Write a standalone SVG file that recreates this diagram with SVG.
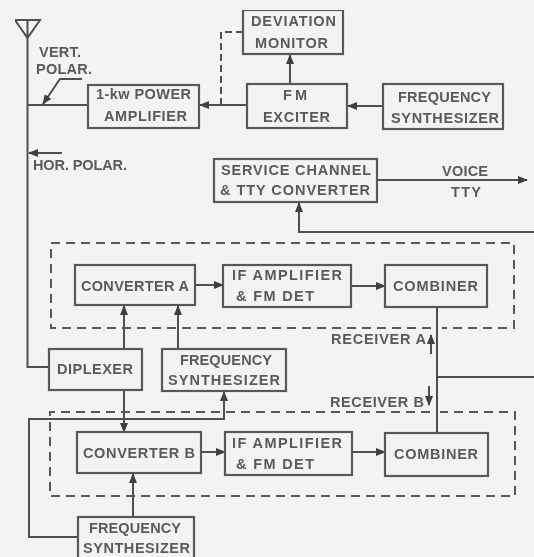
<svg xmlns="http://www.w3.org/2000/svg" width="534" height="557" viewBox="0 0 534 557">
<style>
.b{fill:none;stroke:#59595a;stroke-width:2.2}
.c{fill:none;stroke:#4f4f50;stroke-width:2}
.d{fill:none;stroke:#59595a;stroke-width:2;stroke-dasharray:9 6}
text{font-family:"Liberation Sans",Arial,sans-serif;font-weight:bold;font-size:14.5px;fill:#5a5a5b;text-anchor:start}
</style>
<defs>
<marker id="a" markerUnits="userSpaceOnUse" markerWidth="11" markerHeight="10" refX="9" refY="5" orient="auto"><path d="M0 1L10 5L0 9Z" fill="#3f3f40"/></marker>
<filter id="s" x="0" y="0" width="100%" height="100%"><feGaussianBlur stdDeviation="0.6"/></filter>
</defs>
<rect width="534" height="557" fill="#f3f3f1"/>
<g filter="url(#s)">
<g id="connectors">
<path class="c" d="M15 20H40L27.500 38L15 20ZM27.500 20V367H48"/>
<path class="c" d="M28 105H87"/>
<path class="c" d="M82 79H60L43 104" marker-end="url(#a)"/>
<path class="c" d="M62 153H29" marker-end="url(#a)"/>
<path class="c" d="M247 105H200" marker-end="url(#a)"/>
<path class="c" d="M221 105V32H243" stroke-dasharray="7 4"/>
<path class="c" d="M290 83V55" marker-end="url(#a)"/>
<path class="c" d="M383 106H348" marker-end="url(#a)"/>
<path class="c" d="M377 180H527" marker-end="url(#a)"/>
<path class="c" d="M534 232H299V203" marker-end="url(#a)"/>
<path class="c" d="M195 285H223" marker-end="url(#a)"/>
<path class="c" d="M351 286H385" marker-end="url(#a)"/>
<path class="c" d="M124 349V306" marker-end="url(#a)"/>
<path class="c" d="M178 349V306" marker-end="url(#a)"/>
<path class="c" d="M124 390V432" marker-end="url(#a)"/>
<path class="c" d="M78 537H29V419H224V392" marker-end="url(#a)"/>
<path class="c" d="M133 517V474" marker-end="url(#a)"/>
<path class="c" d="M201 452H225" marker-end="url(#a)"/>
<path class="c" d="M352 452H385" marker-end="url(#a)"/>
<path class="c" d="M437 307V433M437 377H534"/>
<path class="c" d="M431 354V335" marker-end="url(#a)"/>
<path class="c" d="M429 386V405" marker-end="url(#a)"/>
<path class="d" d="M431 328H51V243H514V328H442"/>
<path class="d" d="M430 412H50V496H515V412H440"/>
</g>
<g id="antenna-labels">
<text x="39" y="57" textLength="42" lengthAdjust="spacing">VERT.</text>
<text x="36" y="74" textLength="56" lengthAdjust="spacing">POLAR.</text>
<text x="33" y="170" textLength="94" lengthAdjust="spacing">HOR. POLAR.</text>
</g>
<g id="monitor"><rect class="b" x="243" y="10" width="100" height="44"/>
<text x="251" y="26" textLength="85" lengthAdjust="spacing">DEVIATION</text><text x="255" y="48" textLength="73" lengthAdjust="spacing">MONITOR</text></g>
<g id="pa"><rect class="b" x="88" y="85" width="111" height="43"/>
<text x="96" y="99" textLength="95" lengthAdjust="spacing">1-kw POWER</text><text x="104" y="121" textLength="83" lengthAdjust="spacing">AMPLIFIER</text></g>
<g id="exciter"><rect class="b" x="247" y="84" width="100" height="44"/>
<text x="283" y="100" textLength="24" lengthAdjust="spacing">FM</text><text x="263" y="122" textLength="67" lengthAdjust="spacing">EXCITER</text></g>
<g id="synth-tx"><rect class="b" x="383" y="84" width="120" height="45"/>
<text x="398" y="102" textLength="93" lengthAdjust="spacing">FREQUENCY</text><text x="391" y="123" textLength="108" lengthAdjust="spacing">SYNTHESIZER</text></g>
<g id="service"><rect class="b" x="214" y="159" width="163" height="43"/>
<text x="221" y="175" textLength="150" lengthAdjust="spacing">SERVICE CHANNEL</text><text x="220" y="195" textLength="150" lengthAdjust="spacing">&amp; TTY CONVERTER</text></g>
<g id="out-labels"><text x="442" y="176" textLength="46" lengthAdjust="spacing">VOICE</text><text x="451" y="197" textLength="30" lengthAdjust="spacing">TTY</text></g>
<g id="converter-a"><rect class="b" x="75" y="265" width="120" height="40"/>
<text x="81" y="291" textLength="108" lengthAdjust="spacing">CONVERTER A</text></g>
<g id="if-a"><rect class="b" x="223" y="265" width="128" height="42"/>
<text x="232" y="280" textLength="110" lengthAdjust="spacing">IF AMPLIFIER</text><text x="236" y="301" textLength="78" lengthAdjust="spacing">&amp; FM DET</text></g>
<g id="combiner-a"><rect class="b" x="385" y="265" width="102" height="42"/>
<text x="393" y="291" textLength="85" lengthAdjust="spacing">COMBINER</text></g>
<g id="diplexer"><rect class="b" x="49" y="349" width="93" height="41"/>
<text x="57" y="374" textLength="76" lengthAdjust="spacing">DIPLEXER</text></g>
<g id="synth-rx"><rect class="b" x="162" y="349" width="124" height="42"/>
<text x="180" y="365" textLength="92" lengthAdjust="spacing">FREQUENCY</text><text x="168" y="385" textLength="112" lengthAdjust="spacing">SYNTHESIZER</text></g>
<g id="rx-labels"><text x="331" y="344" textLength="95" lengthAdjust="spacing">RECEIVER A</text><text x="330" y="407" textLength="94" lengthAdjust="spacing">RECEIVER B</text></g>
<g id="converter-b"><rect class="b" x="77" y="432" width="124" height="41"/>
<text x="83" y="458" textLength="112" lengthAdjust="spacing">CONVERTER B</text></g>
<g id="if-b"><rect class="b" x="225" y="432" width="127" height="43"/>
<text x="232" y="448" textLength="110" lengthAdjust="spacing">IF AMPLIFIER</text><text x="236" y="469" textLength="78" lengthAdjust="spacing">&amp; FM DET</text></g>
<g id="combiner-b"><rect class="b" x="385" y="433" width="103" height="43"/>
<text x="394" y="459" textLength="84" lengthAdjust="spacing">COMBINER</text></g>
<g id="synth-bottom"><rect class="b" x="78" y="517" width="116" height="42"/>
<text x="89" y="533" textLength="92" lengthAdjust="spacing">FREQUENCY</text><text x="83" y="553" textLength="107" lengthAdjust="spacing">SYNTHESIZER</text></g>
</g>
</svg>
